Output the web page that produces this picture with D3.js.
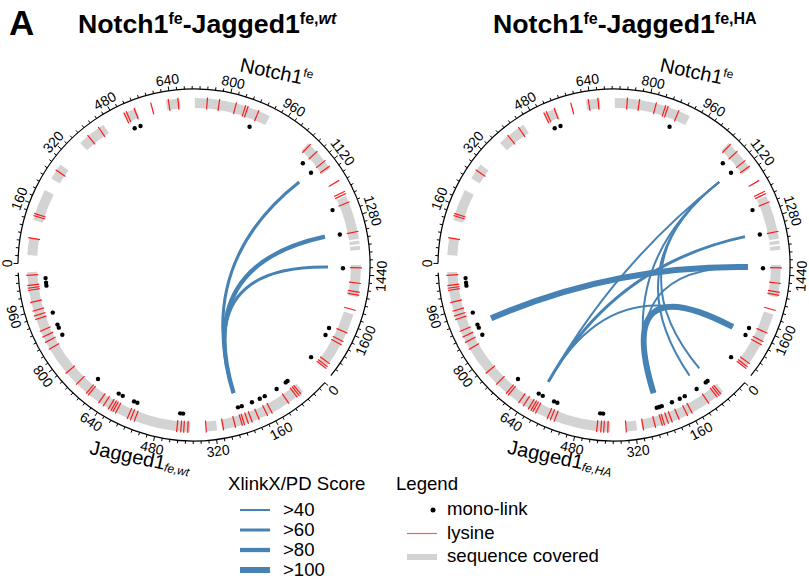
<!DOCTYPE html>
<html>
<head>
<meta charset="utf-8">
<script src="https://cdn.jsdelivr.net/npm/d3@7"></script>
<style>
  body { margin: 0; background: #fff; }
  svg { font-family: "Liberation Sans", Arial, sans-serif; }
</style>
</head>
<body>
<div id="chart"></div>
<script>
// protein lengths (residues)
const notchLength = 1720
const jaggedLength = 1067

// sequence covered by peptides [from, to]
const notchCovered = [[23, 71], [119, 206], [242, 287], [366, 446], [510, 544], [628, 666], [707, 917],
  [1045, 1135], [1221, 1342], [1347, 1356], [1361, 1372], [1413, 1501], [1549, 1713]]
const jaggedCovered = [[57, 301], [315, 345], [389, 1067]]

// lysine positions
const notchLysines = [70, 131, 137, 268, 395, 431, 510, 517, 540, 587, 635, 661, 741, 774, 820, 846, 853, 884,
  1051, 1077, 1110, 1129, 1175, 1208, 1215, 1239, 1322, 1421, 1463, 1487, 1495, 1537, 1602, 1627, 1637,
  1697, 1707, 1713]
const jaggedLysines = [66, 72, 79, 107, 159, 173, 198, 218, 229, 240, 246, 265, 298, 345, 395, 406, 414, 425,
  543, 554, 563, 598, 606, 612, 620, 636, 651, 686, 693, 729, 770, 849, 870, 886, 903, 937, 947, 961, 985,
  1018, 1024, 1031, 1059]

// mono-links
const notchMonoWt = [520, 539, 877, 1074, 1112, 1243, 1320, 1423, 1610, 1634, 1714]
const jaggedMonoWt = [72, 79, 113, 155, 172, 198, 231, 243, 411, 420, 554, 565, 603, 617, 694, 867, 891, 901,
  940, 1024, 1033, 1047]
const notchMonoHA = [520, 539, 877, 1074, 1112, 1243, 1320, 1423, 1610, 1634, 1714]
const jaggedMonoHA = [72, 79, 113, 155, 172, 198, 231, 239, 247, 411, 420, 554, 565, 603, 617, 694, 867, 891,
  901, 940, 1024, 1033, 1047]

// cross-links: [Notch1 residue, Jagged1 residue, score class]
const linksWt = [[1112, 243, ">60"], [1317, 243, ">80"], [1420, 243, ">60"]]
const linksHA = [[1112, 243, ">40"], [1420, 243, ">40"], [1112, 609, ">40"], [1112, 67, ">40"],
  [1112, 108, ">40"], [1630, 609, ">40"], [1317, 609, ">60"], [1420, 902, ">100"], [1630, 243, ">100"]]

const notchTickLabels = [0, 160, 320, 480, 640, 800, 960, 1120, 1280, 1440, 1600]
const jaggedTickLabels = [0, 160, 320, 480, 640, 800, 960]
const scoreLabels = [">40", ">60", ">80", ">100"]
const legendLabels = ["mono-link", "lysine", "sequence covered"]

const blue = "#4682b4", red = "#ff1a1a", grey = "#d3d3d3"
const width = 809, height = 584
const rAxis = 176, rBandIn = 157, rBandOut = 167, rDot = 149, rLink = 134

const svg = d3.select("#chart").append("svg")
  .attr("width", width)
  .attr("height", height)

// angles in degrees, clockwise from 12 o'clock
const gapDeg = 3
const degPerRes = (360 - 2 * gapDeg) / (notchLength + jaggedLength)
const notchStart = 270.5
const jaggedStart = notchStart + notchLength * degPerRes + gapDeg - 360
const notchAngle = d3.scaleLinear().domain([0, notchLength]).range([notchStart, notchStart + notchLength * degPerRes])
const jaggedAngle = d3.scaleLinear().domain([0, jaggedLength]).range([jaggedStart, jaggedStart + jaggedLength * degPerRes])

const widthScale = d3.scaleOrdinal().domain(scoreLabels).range([2, 3, 4.3, 6])

const rad = d => d * Math.PI / 180
const polar = (r, deg) => [r * Math.sin(rad(deg)), -r * Math.cos(rad(deg))]

const bandArc = d3.arc().innerRadius(rBandIn).outerRadius(rBandOut)

function drawCircos(cx, cy, links, notchMono, jaggedMono, jaggedSup) {
  const g = svg.append("g").attr("transform", "translate(" + cx + "," + cy + ")")

  const sectors = [
    { scale: notchAngle, length: notchLength, covered: notchCovered, lys: notchLysines, mono: notchMono, ticks: notchTickLabels },
    { scale: jaggedAngle, length: jaggedLength, covered: jaggedCovered, lys: jaggedLysines, mono: jaggedMono, ticks: jaggedTickLabels }
  ]

  sectors.forEach(s => {
    // sequence covered
    g.append("g").selectAll("path")
      .data(s.covered)
      .join("path")
        .attr("d", d => bandArc({ startAngle: rad(s.scale(d[0])), endAngle: rad(s.scale(d[1])) }))
        .attr("fill", grey)

    // lysines
    g.append("g").selectAll("line")
      .data(s.lys)
      .join("line")
        .attr("x1", d => polar(rBandIn - 1, s.scale(d))[0])
        .attr("y1", d => polar(rBandIn - 1, s.scale(d))[1])
        .attr("x2", d => polar(rBandOut + 1, s.scale(d))[0])
        .attr("y2", d => polar(rBandOut + 1, s.scale(d))[1])
        .attr("stroke", red)
        .attr("stroke-width", 1.2)

    // mono-links
    g.append("g").selectAll("circle")
      .data(s.mono)
      .join("circle")
        .attr("cx", d => polar(rDot, s.scale(d))[0])
        .attr("cy", d => polar(rDot, s.scale(d))[1])
        .attr("r", 2.2)
        .attr("fill", "#000")

    // axis
    const a0 = s.scale(0), a1 = s.scale(s.length)
    const p = d3.path()
    p.arc(0, 0, rAxis, rad(a0 - 90), rad(a1 - 90))
    g.append("path").attr("d", p.toString()).attr("fill", "none").attr("stroke", "#000").attr("stroke-width", 1.2)

    const minor = d3.range(0, s.length, 20)
    g.append("g").selectAll("line")
      .data(minor)
      .join("line")
        .attr("x1", d => polar(rAxis, s.scale(d))[0])
        .attr("y1", d => polar(rAxis, s.scale(d))[1])
        .attr("x2", d => polar(rAxis + (d % 160 === 0 ? 4.5 : 3), s.scale(d))[0])
        .attr("y2", d => polar(rAxis + (d % 160 === 0 ? 4.5 : 3), s.scale(d))[1])
        .attr("stroke", "#000")
        .attr("stroke-width", 1)

    g.append("g").selectAll("text")
      .data(s.ticks)
      .join("text")
        .attr("transform", d => {
          const a = s.scale(d), pt = polar(rAxis + 6, a)
          const m = ((a % 360) + 360) % 360
          const flip = m > 90 && m < 270
          return "translate(" + pt[0] + "," + pt[1] + ") rotate(" + (flip ? a - 180 : a) + ")"
        })
        .attr("dominant-baseline", d => {
          const m = ((s.scale(d) % 360) + 360) % 360
          return (m > 90 && m < 270) ? "hanging" : "auto"
        })
        .attr("text-anchor", "middle")
        .attr("font-size", 14)
        .text(d => d)
  })

  // cross-links: quadratic curves through the centre
  g.append("g").selectAll("path")
    .data(links)
    .join("path")
      .attr("d", d => {
        const p0 = polar(rLink, notchAngle(d[0])), p1 = polar(rLink, jaggedAngle(d[1]))
        return "M" + p0[0] + "," + p0[1] + " Q0,0 " + p1[0] + "," + p1[1]
      })
      .attr("fill", "none")
      .attr("stroke", blue)
      .attr("stroke-width", d => widthScale(d[2]))

  // sector names
  const np = polar(203, 23.5)
  const nt = g.append("text")
    .attr("transform", "translate(" + np[0] + "," + np[1] + ") rotate(12)")
    .attr("text-anchor", "middle")
    .attr("font-size", 20)
  nt.append("tspan").text("Notch1")
  nt.append("tspan").attr("dy", -8).attr("font-size", 12).text("fe")

  const jp = polar(207, 195.5)
  const jt = g.append("text")
    .attr("transform", "translate(" + jp[0] + "," + jp[1] + ") rotate(12)")
    .attr("text-anchor", "middle")
    .attr("font-size", 20)
  jt.append("tspan").text("Jagged1")
  jt.append("tspan").attr("dy", 1.5).attr("font-size", 12).attr("font-style", "italic").text("fe," + jaggedSup)
}

function drawTitle(x, sup, italicSup) {
  const t = svg.append("text")
    .attr("x", x)
    .attr("y", 33)
    .attr("font-size", 26.7)
    .attr("font-weight", "bold")
  t.append("tspan").text("Notch1")
  t.append("tspan").attr("dy", -9).attr("font-size", 16).text("fe")
  t.append("tspan").attr("dy", 9).text("-Jagged1")
  t.append("tspan").attr("dy", -9).attr("font-size", 16).text("fe,")
  t.append("tspan").attr("font-size", 16).attr("font-style", italicSup ? "italic" : "normal").text(sup)
}

svg.append("text")
  .attr("x", 9)
  .attr("y", 35)
  .attr("font-size", 35)
  .attr("font-weight", "bold")
  .text("A")

drawTitle(78, "wt", true)
drawTitle(493, "HA", false)

drawCircos(194, 265, linksWt, notchMonoWt, jaggedMonoWt, "wt")
drawCircos(614, 265, linksHA, notchMonoHA, jaggedMonoHA, "HA")

// score legend
const sl = svg.append("g")
sl.append("text").attr("x", 228).attr("y", 490).attr("font-size", 18.6).text("XlinkX/PD Score")
const rowY = d3.scalePoint().domain(scoreLabels).range([510, 570])
sl.selectAll("line.score")
  .data(scoreLabels)
  .join("line")
    .attr("class", "score")
    .attr("x1", 240).attr("x2", 270)
    .attr("y1", d => rowY(d)).attr("y2", d => rowY(d))
    .attr("stroke", blue)
    .attr("stroke-width", d => widthScale(d))
sl.selectAll("text.score")
  .data(scoreLabels)
  .join("text")
    .attr("class", "score")
    .attr("x", 283)
    .attr("y", d => rowY(d) + 6)
    .attr("font-size", 18.6)
    .text(d => d)

// symbol legend
const ll = svg.append("g")
ll.append("text").attr("x", 396).attr("y", 490).attr("font-size", 18.6).text("Legend")
const legY = d3.scalePoint().domain(legendLabels).range([510, 557])
ll.append("circle").attr("cx", 433).attr("cy", legY("mono-link")).attr("r", 2.5).attr("fill", "#000")
ll.append("line").attr("x1", 407).attr("x2", 437).attr("y1", legY("lysine")).attr("y2", legY("lysine"))
  .attr("stroke", "#f06060").attr("stroke-width", 1.2)
ll.append("rect").attr("x", 407).attr("y", legY("sequence covered") - 3).attr("width", 30).attr("height", 6)
  .attr("fill", grey)
ll.selectAll("text.item")
  .data(legendLabels)
  .join("text")
    .attr("class", "item")
    .attr("x", 447)
    .attr("y", d => legY(d) + 5)
    .attr("font-size", 18.6)
    .text(d => d)
</script>
</body>
</html>
